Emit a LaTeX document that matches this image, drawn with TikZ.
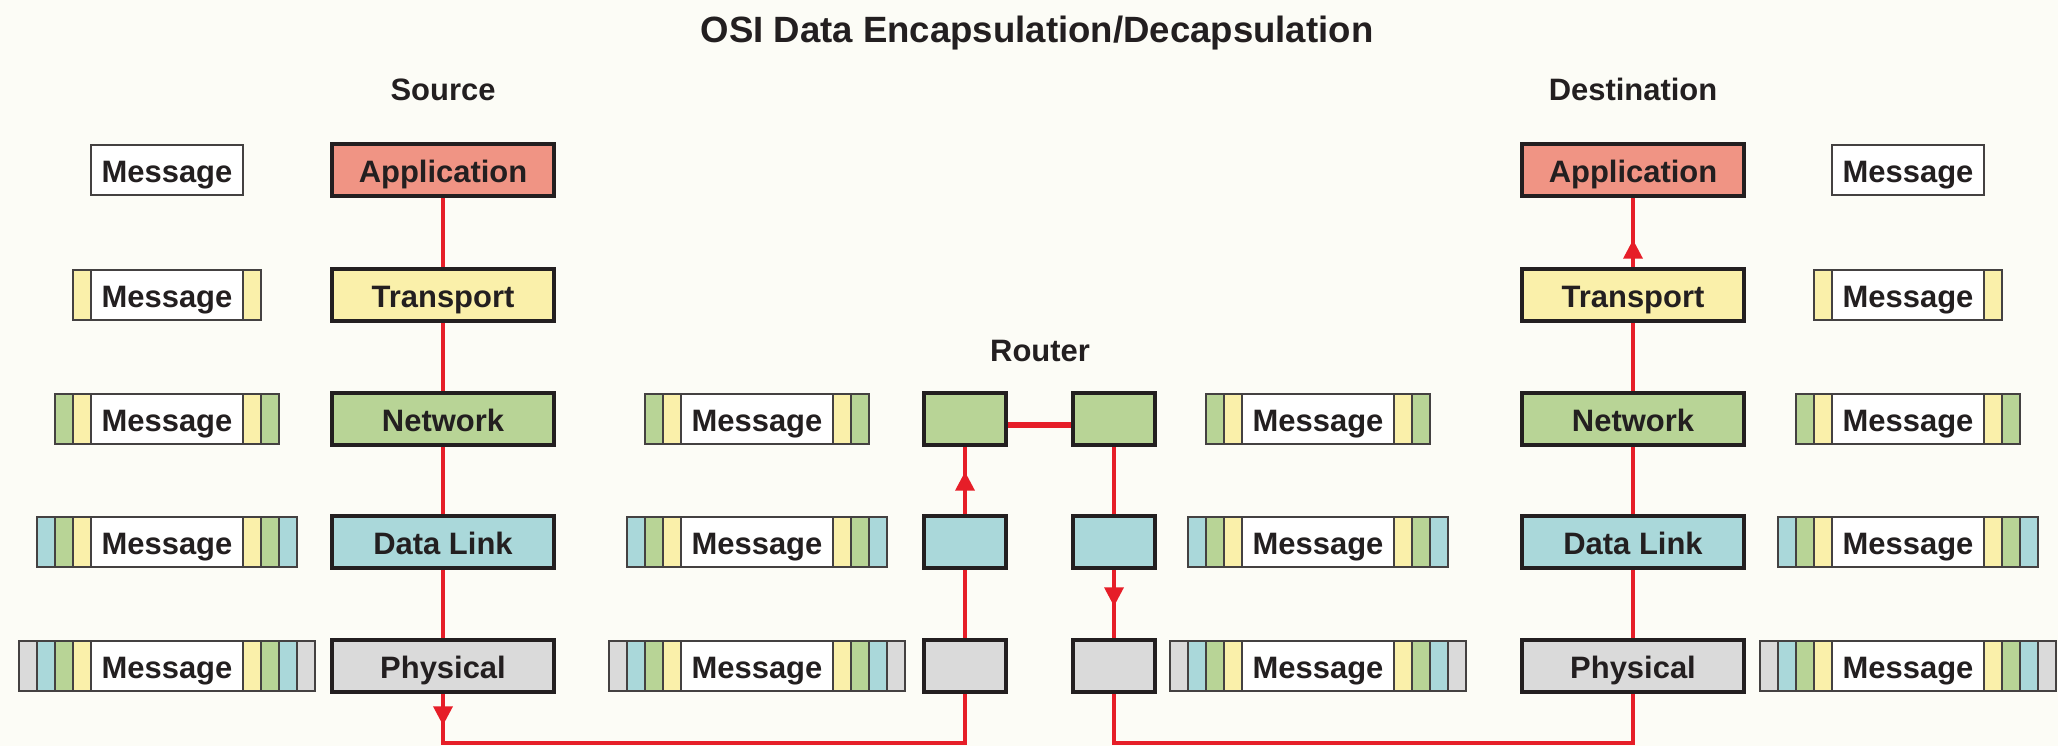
\documentclass[tikz,border=0pt]{standalone}
\usepackage{fontspec}
\setmainfont{Liberation Sans}
\usetikzlibrary{arrows.meta,decorations.markings}
\definecolor{bg}{RGB}{252,252,246}
\definecolor{appc}{RGB}{240,148,132}
\definecolor{trc}{RGB}{250,240,170}
\definecolor{netc}{RGB}{184,212,150}
\definecolor{dlc}{RGB}{170,216,218}
\definecolor{phyc}{RGB}{218,218,218}
\definecolor{redl}{RGB}{230,30,40}
\definecolor{ink}{RGB}{35,31,32}
\newcommand\msgbox[4]{%
  \foreach \c [count=\i] in {#4}{%
    \filldraw[strip, fill=\c] (#2-76-18*\i,#3-25) rectangle (#2-58-18*\i,#3+25);
    \filldraw[strip, fill=\c] (#2+58+18*\i,#3-25) rectangle (#2+76+18*\i,#3+25);
  }
  \node[msgcore] (#1) at (#2,#3) {Message};
}
\begin{document}
\begin{tikzpicture}[x=0.01cm,y=-0.01cm,
  txt/.style={font=\fontsize{8.8}{10}\selectfont\bfseries, text=ink, text height=0.72em, text depth=0pt},
  layer/.style={txt, draw=ink, line width=1.3pt, minimum width=2.22cm, minimum height=0.52cm, inner sep=0pt},
  rbox/.style={draw=ink, line width=1.3pt, minimum width=0.82cm, minimum height=0.52cm, inner sep=0pt},
  msgcore/.style={txt, draw=ink!85, fill=white, line width=0.5pt, minimum width=1.52cm, minimum height=0.50cm, inner sep=0pt},
  strip/.style={draw=ink!85, line width=0.5pt},
  rl/.style={draw=redl, line width=1pt},
  midarr/.style={postaction={decorate},decoration={markings,mark=at position #1 with {\arrow[redl]{Triangle[length=0.19cm,width=0.19cm]}}}},
]
\fill[bg] (0,0) rectangle (2058,746);
\coordinate (bot) at (0,743);

\node[font=\fontsize{10.4}{12}\selectfont\bfseries, text=ink, text height=0.72em, text depth=0pt] (title) at (1037,30) {OSI Data Encapsulation/Decapsulation};
\node[txt] (srclbl) at (443,88) {Source};
\node[txt] (dstlbl) at (1633,88) {Destination};
\node[txt] (rtrlbl) at (1040,349) {Router};

% source stack
\node[layer, fill=appc] (sapp) at (443,170) {Application};
\node[layer, fill=trc]  (str)  at (443,295) {Transport};
\node[layer, fill=netc] (snet) at (443,419) {Network};
\node[layer, fill=dlc]  (sdl)  at (443,542) {Data Link};
\node[layer, fill=phyc] (sphy) at (443,666) {Physical};

% destination stack
\node[layer, fill=appc] (dapp) at (1633,170) {Application};
\node[layer, fill=trc]  (dtr)  at (1633,295) {Transport};
\node[layer, fill=netc] (dnet) at (1633,419) {Network};
\node[layer, fill=dlc]  (ddl)  at (1633,542) {Data Link};
\node[layer, fill=phyc] (dphy) at (1633,666) {Physical};

% router
\node[rbox, fill=netc] (rnetL) at (965,419) {};
\node[rbox, fill=dlc]  (rdlL)  at (965,542) {};
\node[rbox, fill=phyc] (rphyL) at (965,666) {};
\node[rbox, fill=netc] (rnetR) at (1114,419) {};
\node[rbox, fill=dlc]  (rdlR)  at (1114,542) {};
\node[rbox, fill=phyc] (rphyR) at (1114,666) {};

% messages
\node[msgcore] (sm1) at (167,170) {Message};
\msgbox{sm2}{167}{295}{trc}
\msgbox{sm3}{167}{419}{trc,netc}
\msgbox{sm4}{167}{542}{trc,netc,dlc}
\msgbox{sm5}{167}{666}{trc,netc,dlc,phyc}

\msgbox{rlm3}{757}{419}{trc,netc}
\msgbox{rlm4}{757}{542}{trc,netc,dlc}
\msgbox{rlm5}{757}{666}{trc,netc,dlc,phyc}

\msgbox{rrm3}{1318}{419}{trc,netc}
\msgbox{rrm4}{1318}{542}{trc,netc,dlc}
\msgbox{rrm5}{1318}{666}{trc,netc,dlc,phyc}

\node[msgcore] (dm1) at (1908,170) {Message};
\msgbox{dm2}{1908}{295}{trc}
\msgbox{dm3}{1908}{419}{trc,netc}
\msgbox{dm4}{1908}{542}{trc,netc,dlc}
\msgbox{dm5}{1908}{666}{trc,netc,dlc,phyc}

% connectors: source
\draw[rl] (sapp.south) -- (str.north);
\draw[rl] (str.south) -- (snet.north);
\draw[rl] (snet.south) -- (sdl.north);
\draw[rl] (sdl.south) -- (sphy.north);
\draw[rl, midarr=0.31cm] (sphy.south) -- (sphy.south |- bot) -| (rphyL.south);

% router
\draw[rl] (rphyL.north) -- (rdlL.south);
\draw[rl, midarr=0.42cm] (rdlL.north) -- (rnetL.south);
\draw[redl, line width=1.5pt] ([yshift=-0.06cm]rnetL.east) -- ([yshift=-0.06cm]rnetR.west);
\draw[rl] (rnetR.south) -- (rdlR.north);
\draw[rl, midarr=0.36cm] (rdlR.south) -- (rphyR.north);
\draw[rl] (rphyR.south) -- (rphyR.south |- bot) -| (dphy.south);

% destination
\draw[rl] (dphy.north) -- (ddl.south);
\draw[rl] (ddl.north) -- (dnet.south);
\draw[rl] (dnet.north) -- (dtr.south);
\draw[rl, midarr=0.27cm] (dtr.north) -- (dapp.south);
\end{tikzpicture}
\end{document}
